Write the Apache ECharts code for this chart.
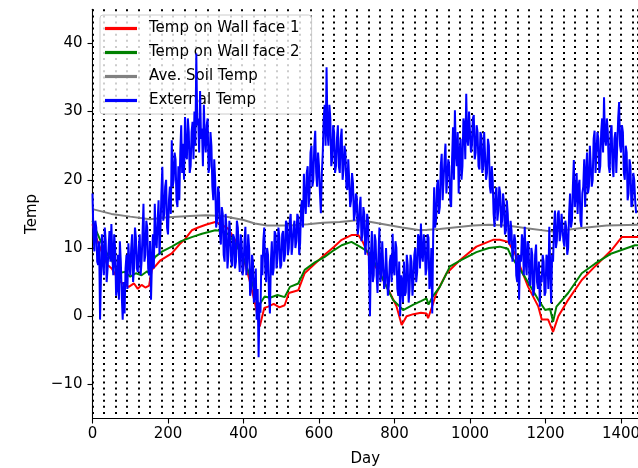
<!DOCTYPE html>
<html>
<head>
<meta charset="utf-8">
<script src="https://cdn.jsdelivr.net/npm/echarts@6/dist/echarts.min.js"></script>
<style>
  html, body { margin: 0; padding: 0; background: #fff; }
  #chart { width: 638px; height: 468px; }
</style>
</head>
<body>
<div id="chart"></div>
<script>
// Wall face 1 temperature: [day, temp]
const wallFace1 = [
  [0, 13.5], [10, 11.5], [24, 9.5], [40, 7.5], [51, 7], [69, 5.3], [80, 4.8], [96, 4.3],
  [110, 4.8], [120, 4.0], [130, 4.6], [140, 4.2], [150, 4.5], [157, 6.8], [166, 7.3],
  [180, 8.2], [195, 8.7], [210, 9.2], [230, 10.5], [245, 11.3], [263, 12.6], [280, 13.0],
  [300, 13.4], [325, 13.8], [340, 13.5], [360, 12.8], [380, 11], [400, 8.5], [415, 5.5],
  [430, 2], [443, -1.5], [455, 1.2], [465, 1.4], [480, 1.8], [495, 1.3], [509, 1.6],
  [520, 3.4], [545, 3.8], [562, 6.3], [589, 7.7], [615, 9.0], [640, 10.2], [660, 11.2],
  [686, 11.9], [704, 11.9], [715, 11.0], [735, 8.5], [761, 6.3], [788, 3.4], [805, 1.5],
  [819, -1.3], [832, 0], [850, 0.3], [870, 0.5], [885, 0.4], [889, -0.3], [900, 1.5],
  [911, 3.4], [938, 6.3], [973, 8.2], [1017, 10.2], [1061, 11.2], [1079, 11.2],
  [1101, 10.9], [1119, 9.2], [1154, 4.3], [1181, 1.4], [1190, -0.5], [1207, -0.5],
  [1220, -2.3], [1234, 0], [1260, 2.4], [1296, 5.3], [1331, 7.3], [1375, 9.7],
  [1402, 11.6], [1445, 11.6]
];

// Wall face 2 temperature: [day, temp]
const wallFace2 = [
  [0, 14], [10, 12.5], [24, 10.7], [40, 9], [51, 8.2], [69, 6.3], [85, 6.5], [100, 5.8],
  [115, 6.3], [130, 6.0], [145, 6.6], [150, 6.2], [155, 7.5], [166, 8.7], [185, 9.5],
  [210, 10.2], [235, 11], [263, 11.6], [290, 12.1], [325, 12.6], [345, 12.5], [360, 12],
  [380, 10.5], [400, 8.5], [420, 5.5], [440, 1.5], [456, 2.9], [470, 2.7], [490, 3.1],
  [509, 2.8], [523, 4.3], [545, 4.8], [562, 6.8], [589, 7.9], [615, 8.7], [640, 9.7],
  [660, 10.4], [686, 10.9], [708, 10.2], [720, 9.8], [735, 9.2], [760, 6.5], [779, 4.3],
  [796, 2.4], [823, 0.9], [850, 1.7], [870, 2.2], [885, 2.6], [890, 1.7], [900, 2.8],
  [920, 4.3], [947, 7.3], [975, 8.2], [1017, 9.4], [1050, 10], [1079, 10.2], [1100, 9.9],
  [1110, 8.7], [1145, 5.8], [1181, 2.4], [1199, 0.9], [1212, 1.1], [1220, -0.8],
  [1229, 1.4], [1260, 3.4], [1296, 6.3], [1331, 7.7], [1375, 9.2], [1437, 10.4], [1445, 10.4]
];

// Average soil temperature: [day, temp]
const soilTemp = [
  [0, 15.7], [50, 15.0], [100, 14.6], [152, 14.2], [200, 14.5], [258, 14.7], [300, 14.8],
  [345, 14.7], [400, 14.1], [430, 13.6], [462, 13.3], [523, 13.3], [570, 13.5], [610, 13.7],
  [655, 13.8], [708, 14.1], [760, 13.6], [820, 13.0], [868, 12.6], [920, 12.8], [1008, 13.3],
  [1050, 13.4], [1098, 13.3], [1150, 12.9], [1220, 12.4], [1290, 12.9], [1362, 13.3], [1445, 13.4]
];

// External temperature, one reading every 2.5 days starting at day 0 (20 readings per row = 50 days)
const externalStep = 2.5;
const externalTemp = [
  18, 12, 9.5, 14, 13, 8, 7.5, 11, -0.5, 6, 12, 8, 6, 13, 11, 5, 7, 10, 12.5, 8,
  13.5, 9, 6, 12, 10, 3, 4, 9, 2.4, 11, 8, 3, -0.5, 5, 0.4, 7, 9, 4, 10.7, 8,
  6, 10, 12, 5, 7, 13, 11.5, 7, 6.5, 10, 12, 6, 8, 12, 16.5, 8, 9, 14, 13, 7,
  6, 11, 2.4, 8, 12, 7, 16.5, 11, 10, 14, 17, 9, 12.5, 18, 21.9, 14, 15, 19, 20, 13,
  12, 17, 19, 15, 25.8, 19, 20, 24, 23, 17, 16, 22, 17, 24, 28, 21, 25.3, 20, 29.2, 24,
  23, 29, 27, 21, 22, 27, 28.5, 23, 30, 25, 38.5, 28, 29, 24, 33, 26, 27.5, 22, 31, 26,
  24, 28, 29, 21, 22, 27, 25, 19, 17, 23, 20, 13, 14, 19, 18, 12, 10.5, 16, 15, 9,
  8, 15, 13, 7, 9, 14, 12, 8, 7.3, 12, 11.5, 7, 8, 14, 13, 9, 6.5, 12, 11, 6,
  7, 11, 13.1, 6, 8, 12, 10, 3, 4, 9, 8, 2, 3, 7, -0.5, 4, -6, 2, 0.5, 9,
  6, 11, 13, 7, 5, 10, 9, 3, 0.4, 8, 11, 6, 7, 12.5, 12, 7, 8.5, 13, 11.5, 7,
  7.5, 12, 12.5, 8, 9, 14, 13.5, 9, 10, 14, 15, 9, 10.5, 13, 14, 10, 11, 15, 14.5, 9,
  10.7, 16, 17, 13, 20.9, 17, 15, 21, 22, 16, 18, 24, 25, 19, 20, 25, 27.2, 21, 19, 24,
  22, 18, 15.1, 21, 24, 29, 31, 25, 36.5, 27, 25, 31, 29, 22, 23, 28, 27, 21, 22, 26,
  28, 22, 21, 26, 27.5, 20, 21.5, 25, 24, 19, 18.5, 23, 20, 16, 17, 21, 19.5, 14, 15, 18,
  17.5, 12, 13.1, 16, 17.5, 11, 12, 16, 15, 9, 11, 15, 14, 7, 0, 9, 12.5, 5, 6, 12,
  11, 6, 3.4, 9, 13, 5, 6, 11, 11, 4, 5, 10, 10, 3, 4.5, 8, 9, 5, 12.1, 7,
  6, 11, 10, 4, 3, 8, 0, 6, 5, 2, 8, 3, 3.5, 9, 7.5, 2, 4, 9, 8, 3,
  5, 9, 10, 5, 6.5, 12, 11.5, 7, 13.6, 9, 8, 12, 11, 6, 7, 12, 11.5, 4, 5, 10,
  0.4, 12, 18.9, 13, 14, 19, 20, 15, 16, 22, 23.8, 17, 17, 23, 25.3, 18, 18, 23, 22, 17,
  16, 23, 27.7, 20, 30.2, 24, 22, 27, 18, 24, 26, 20, 22, 29, 28, 23, 32.6, 26, 25, 30,
  30, 24, 25, 29, 29.5, 23, 24, 28, 27, 22, 21.5, 27, 26.5, 21, 22, 27, 27, 20, 21, 26,
  25, 19, 18, 22, 20, 15, 13.1, 18, 18.9, 14, 15.5, 19, 18, 13, 14, 18, 16.5, 12, 12.5, 17,
  15, 11, 10.5, 14, 12.5, 8, 7.8, 12, 11, 6, 5, 9, 2.4, 9, 8, 12, 11, 6, 13.1, 8,
  6, 11, 10.5, 5, 4.5, 10, 9, 3, 4, 9, 10.5, 5, 4, 8, 1.4, 6, 5, 9, 8, 3,
  3.5, 9, 8.5, 4, 13.1, 7, 1.9, 9, 8, 13, 15.5, 10, 11, 15, 15.5, 11, 12, 15, 15, 11,
  10.2, 14, 13, 9, 10, 15, 18, 13, 14, 19, 22.9, 16, 17.5, 21, 15, 19, 20, 14, 13.1, 18,
  19, 23, 16, 21, 24, 18, 19, 25, 25, 19, 20, 26, 27.2, 21, 21, 27, 26, 21, 22, 27,
  29, 24, 32.1, 26, 25, 29, 27, 22, 21, 27, 28, 22, 20.4, 26, 27, 21, 25, 29, 31.4, 25,
  24, 28, 27, 21, 20, 25, 24, 17, 18, 23, 22, 16, 16.5, 21, 20, 17, 15.1
];

// Axis ticks
const dayTicksInterval = 200;
const monthGridInterval = 30.44;
const tempTicks = [-10, 0, 10, 20, 30, 40];

const seriesNames = ['Temp on Wall face 1', 'Temp on Wall face 2', 'Ave. Soil Temp', 'External Temp'];
const seriesColors = ['#ff0000', '#008000', '#808080', '#0000ff'];

const externalData = externalTemp.map((v, i) => [i * externalStep, v]);
const allData = [wallFace1, wallFace2, soilTemp, externalData];

const FONT = 'DejaVu Sans';
const FS = 15;

const chart = echarts.init(document.getElementById('chart'), null, { renderer: 'canvas' });

chart.setOption({
  animation: false,
  backgroundColor: '#ffffff',
  grid: { left: 92.5, right: 0, top: 9.3, bottom: 49.5, containLabel: false, outerBoundsMode: 'none' },
  legend: {
    orient: 'vertical',
    left: 100,
    top: 15,
    padding: [6, 12, 6, 5],
    itemWidth: 32,
    itemHeight: 14,
    itemGap: 9,
    backgroundColor: 'rgba(255,255,255,0.8)',
    borderColor: '#cccccc',
    borderWidth: 1,
    borderRadius: 3,
    textStyle: { fontFamily: FONT, fontSize: FS, color: '#000', padding: [0, 0, 0, 7] },
    data: seriesNames.map((n) => ({ name: n, icon: 'path://M0,0 L10,0 L10,1 L0,1 Z' }))
  },
  xAxis: [
    {
      type: 'value',
      min: 0,
      max: 1445,
      interval: dayTicksInterval,
      name: 'Day',
      nameLocation: 'middle',
      nameGap: 33,
      nameTextStyle: { fontFamily: FONT, fontSize: FS, color: '#000' },
      axisLine: { show: true, onZero: false, lineStyle: { color: '#000', width: 1.1 } },
      axisTick: { show: true, inside: false, length: 5, lineStyle: { color: '#000', width: 1.1 } },
      axisLabel: {
        fontFamily: FONT, fontSize: FS, color: '#000', margin: 8, showMaxLabel: false,
        formatter: (v) => String(v)
      },
      splitLine: { show: false }
    },
    {
      type: 'value',
      min: 0,
      max: 1445,
      interval: monthGridInterval,
      position: 'bottom',
      axisLine: { show: false },
      axisTick: { show: false },
      axisLabel: { show: false },
      splitLine: { show: true, lineStyle: { color: '#000', width: 2, type: [2, 4.1] } }
    }
  ],
  yAxis: {
    type: 'value',
    min: -15,
    max: 45,
    name: 'Temp',
    nameLocation: 'middle',
    nameGap: 51,
    nameTextStyle: { fontFamily: FONT, fontSize: FS, color: '#000' },
    axisLine: { show: true, onZero: false, lineStyle: { color: '#000', width: 1.1 } },
    axisTick: { show: true, length: 5, customValues: tempTicks, lineStyle: { color: '#000', width: 1.1 } },
    axisLabel: {
      fontFamily: FONT, fontSize: FS, color: '#000', margin: 10,
      customValues: tempTicks,
      formatter: (v) => (v < 0 ? '\u2212' + Math.abs(v) : String(v))
    },
    splitLine: { show: false }
  },
  series: seriesNames.map((name, k) => ({
    name,
    type: 'line',
    xAxisIndex: 0,
    data: allData[k],
    showSymbol: false,
    symbol: 'none',
    smooth: false,
    sampling: null,
    lineStyle: { color: seriesColors[k], width: 2 },
    itemStyle: { color: seriesColors[k] },
    z: 2 + k
  }))
});
</script>
</body>
</html>
